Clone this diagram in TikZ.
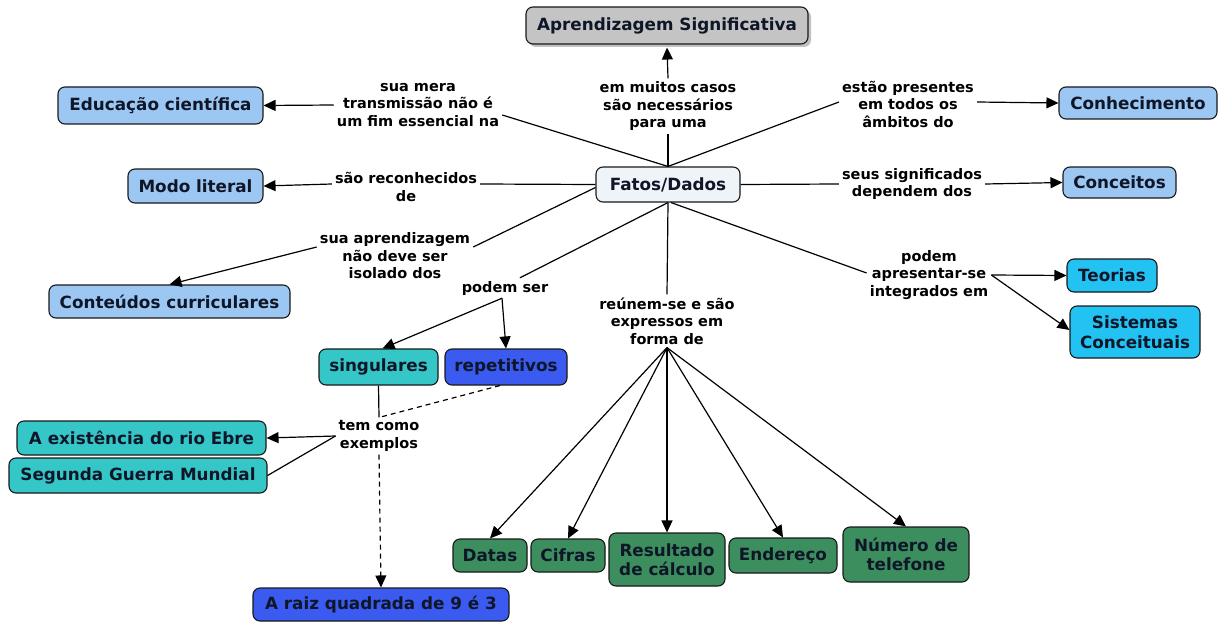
\documentclass[tikz,border=0pt]{standalone}
\usepackage{fontspec}
\setmainfont{DejaVu Sans}
\usetikzlibrary{arrows.meta,calc,shadows}
\definecolor{cGray}{HTML}{C4C4C4}
\definecolor{cPale}{HTML}{EEF4F8}
\definecolor{cSky}{HTML}{9DC7F3}
\definecolor{cCyan}{HTML}{22C2F2}
\definecolor{cTeal}{HTML}{35C7C7}
\definecolor{cBlue}{HTML}{3A5AF0}
\definecolor{cGreen}{HTML}{3C8E5E}
\definecolor{cText}{HTML}{0E1628}
\begin{document}
\begin{tikzpicture}[x=1pt,y=-1pt,
  concept/.style={draw=black!90, line width=1.1pt, rounded corners=7pt,
    inner sep=0pt, align=center, text=cText,
    font=\fontsize{16.8pt}{19.5pt}\selectfont\bfseries},
  linkword/.style={inner sep=3pt, align=center,
    font=\fontsize{14.5pt}{17.5pt}\selectfont\bfseries},
  link/.style={line width=1.2pt, draw=black},
  arrowlink/.style={link, -{Triangle[length=12pt,width=11pt]}},
  dashlink/.style={link, dash pattern=on 5pt off 4pt},
]
% canvas
\fill[white] (0,0) rectangle (1220,623);
\useasboundingbox (0,0) rectangle (1220,623);

% concepts
\node[concept, fill=cGray, minimum width=282pt, minimum height=37pt,
  drop shadow={shadow xshift=3pt, shadow yshift=-3pt, fill=black!30, opacity=0.8}]
  (ap) at (667,25.5) {Aprendizagem Significativa};
\node[concept, fill=cPale, minimum width=144pt, minimum height=35pt] (fatos) at (668,184.5) {Fatos/Dados};
\node[concept, fill=cSky, minimum width=205pt, minimum height=37pt] (edu) at (160.5,105.5) {Educação científica};
\node[concept, fill=cSky, minimum width=135pt, minimum height=34pt] (modo) at (195.5,186) {Modo literal};
\node[concept, fill=cSky, minimum width=241pt, minimum height=33pt] (cont) at (169.5,301.5) {Conteúdos curriculares};
\node[concept, fill=cSky, minimum width=158pt, minimum height=32pt] (conh) at (1138,103) {Conhecimento};
\node[concept, fill=cSky, minimum width=113pt, minimum height=31pt] (conc) at (1119.5,182.5) {Conceitos};
\node[concept, fill=cCyan, minimum width=90pt, minimum height=33pt] (teo) at (1112,275.5) {Teorias};
\node[concept, fill=cCyan, minimum width=130pt, minimum height=52pt] (sis) at (1135,332) {Sistemas\\Conceituais};
\node[concept, fill=cTeal, minimum width=119pt, minimum height=36pt] (sing) at (378.5,367) {singulares};
\node[concept, fill=cBlue, minimum width=122pt, minimum height=36pt] (rep) at (506,367) {repetitivos};
\node[concept, fill=cTeal, minimum width=249pt, minimum height=34pt] (exi) at (141.5,438) {A existência do rio Ebre};
\node[concept, fill=cTeal, minimum width=258pt, minimum height=35pt] (seg) at (138,475.5) {Segunda Guerra Mundial};
\node[concept, fill=cBlue, minimum width=256pt, minimum height=33pt] (raiz) at (381,604.5) {A raiz quadrada de 9 é 3};
\node[concept, fill=cGreen, minimum width=74pt, minimum height=33pt] (datas) at (490,555.5) {Datas};
\node[concept, fill=cGreen, minimum width=74pt, minimum height=33pt] (cifras) at (568,555.5) {Cifras};
\node[concept, fill=cGreen, minimum width=116pt, minimum height=53pt] (res) at (667,559.5) {Resultado\\de cálculo};
\node[concept, fill=cGreen, minimum width=108pt, minimum height=35pt] (ender) at (783,555.5) {Endereço};
\node[concept, fill=cGreen, minimum width=126pt, minimum height=55pt] (num) at (906,554.5) {Número de\\telefone};

% linking phrases
\node[linkword] (lmera) at (418,105) {sua mera\\transmissão não é\\um fim essencial na};
\node[linkword] (lmuitos) at (668,106) {em muitos casos\\são necessários\\para uma};
\node[linkword] (lestao) at (908,104) {estão presentes\\em todos os\\âmbitos do};
\node[linkword] (lrecon) at (406,187) {são reconhecidos\\de};
\node[linkword] (lsignif) at (912,184) {seus significados\\dependem dos};
\node[linkword] (laprend) at (395,256) {sua aprendizagem\\não deve ser\\isolado dos};
\node[linkword] (lpodem) at (505,288) {podem ser};
\node[linkword] (lreunem) at (667,321) {reúnem-se e são\\expressos em\\forma de};
\node[linkword] (lapres) at (929,275) {podem\\apresentar-se\\integrados em};
\node[linkword] (ltem) at (379,436) {tem como\\exemplos};

% connectors
\draw[link] (fatos.north) -- ([yshift=-10pt]lmera.east);
\draw[arrowlink] (lmera.west) -- (edu.east);

\draw[link] (fatos.north) -- (lmuitos.south);
\draw[arrowlink] (lmuitos.north) -- ([yshift=-3pt]ap.south);

\draw[link] (fatos.north) -- ([yshift=2pt]lestao.west);
\draw[arrowlink] ([yshift=2pt]lestao.east) -- (conh.west);

\draw[link] (fatos.west) -- ([yshift=3pt]lrecon.east);
\draw[arrowlink] ([yshift=3pt]lrecon.west) -- (modo.east);

\draw[link] ([yshift=-3pt]fatos.west) -- ([yshift=9pt]laprend.east);
\draw[arrowlink] ([yshift=9pt]laprend.west) -- (cont.north);

\draw[link] (fatos.south) -- ([xshift=15pt]lpodem.north);
\draw[arrowlink] ([xshift=-3pt]lpodem.south) -- (rep.north);
\draw[arrowlink] ([xshift=-3pt]lpodem.south) -- ([xshift=4pt]sing.north);

\draw[link] (fatos.south) -- (lreunem.north);
\foreach \target in {datas,cifras,res,ender,num}
  \draw[arrowlink] (lreunem.south) -- (\target.north);

\draw[link] (fatos.east) -- (lsignif.west);
\draw[arrowlink] (lsignif.east) -- (conc.west);

\draw[link] ([xshift=3pt]fatos.south) -- ([yshift=2pt]lapres.west);
\draw[arrowlink] (lapres.east) -- (teo.west);
\draw[arrowlink] (lapres.east) -- ([yshift=2pt]sis.west);

\draw[link] (sing.south) -- (ltem.north);
\draw[dashlink] ([xshift=-6pt]rep.south) -- (ltem.north);
\draw[arrowlink] (ltem.west) -- (exi.east);
\draw[link] (ltem.west) -- (seg.east);
\draw[arrowlink, dash pattern=on 5pt off 4pt] (ltem.south) -- (raiz.north);
\end{tikzpicture}
\end{document}
